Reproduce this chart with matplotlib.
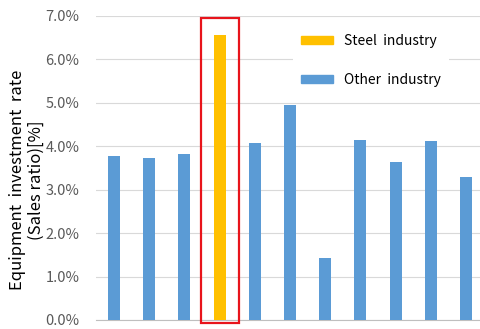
import matplotlib
matplotlib.use("Agg")
import matplotlib.pyplot as plt
from matplotlib.patches import Rectangle, Patch
from matplotlib.ticker import PercentFormatter

values = [3.78, 3.73, 3.83, 6.57, 4.07, 4.95, 1.43, 4.15, 3.63, 4.13, 3.30]
is_steel = [False, False, False, True, False, False, False, False, False, False, False]
yticks = [0, 1, 2, 3, 4, 5, 6, 7]
legend_labels = ["Steel  industry", "Other  industry"]
ylabel = "Equipment  investment  rate\n(Sales ratio)[%]"

blue = "#5B9BD5"
gold = "#FFC000"

plt.rcParams['font.family'] = ['Noto Sans CJK JP', 'DejaVu Sans']

fig = plt.figure(figsize=(4.8, 3.29), dpi=100)
ax = fig.add_axes([0.2, 0.0274, 0.8, 0.924])

x = list(range(len(values)))
colors = [gold if s else blue for s in is_steel]
ax.bar(x, values, width=0.34, color=colors, zorder=3)

ax.set_xlim(-0.51, 10.4)
ax.set_ylim(0, 7)
ax.set_yticks(yticks)
ax.yaxis.set_major_formatter(PercentFormatter(decimals=1))
ax.set_xticks([])
ax.grid(axis='y', color='#D9D9D9', linewidth=0.8, zorder=0)
for s in ['top', 'right', 'left']:
    ax.spines[s].set_visible(False)
ax.spines['bottom'].set_color('#BFBFBF')
ax.tick_params(axis='y', length=0, labelsize=10.5, labelcolor='#595959', pad=12)

ax.set_ylabel(ylabel, fontsize=12.0, color='#000000', linespacing=1.15)
ax.yaxis.set_label_coords(-0.133, 0.461)

steel_idx = is_steel.index(True)
rect = Rectangle((steel_idx - 0.52, -0.07), 1.06, 7.03, fill=False,
                 edgecolor='#E8141B', linewidth=1.6, clip_on=False, zorder=5)
ax.add_patch(rect)

handles = [Patch(color=gold), Patch(color=blue)]
leg = ax.legend(handles, legend_labels, loc='upper left', bbox_to_anchor=(0.494, 0.99),
                frameon=True, fontsize=10, handlelength=2.3, handleheight=0.5,
                labelspacing=1.75, borderpad=0.6, handletextpad=0.8)
leg.get_frame().set_edgecolor('none')
leg.get_frame().set_facecolor('white')
leg.get_frame().set_alpha(1)

fig.savefig("out.png", dpi=100)
